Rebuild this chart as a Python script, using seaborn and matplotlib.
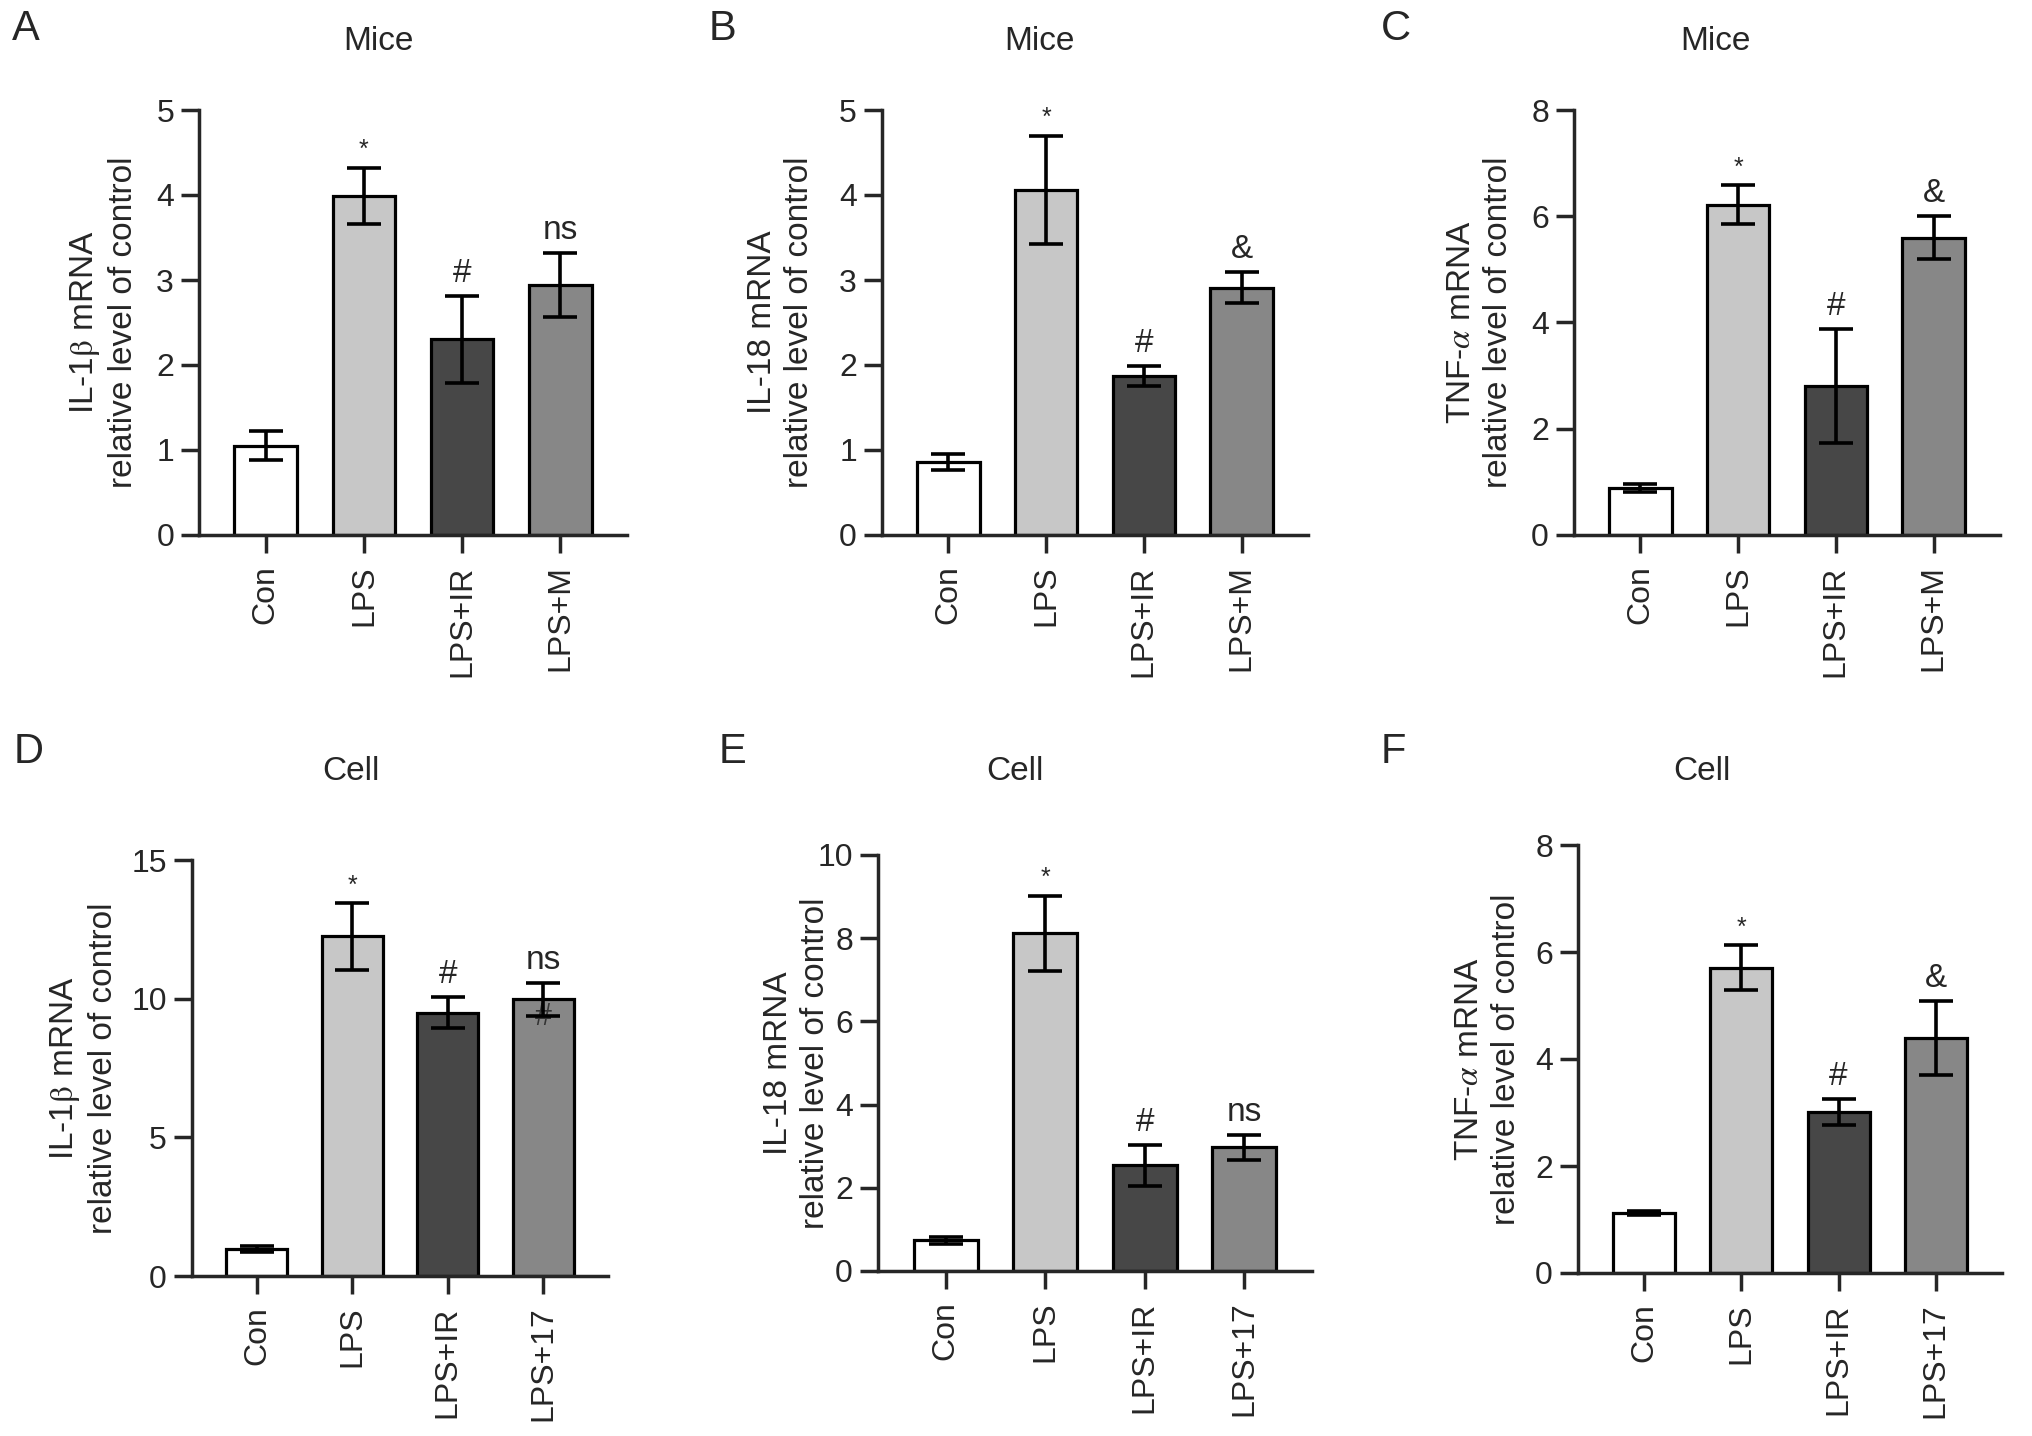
import numpy as np
import pandas as pd
import matplotlib
matplotlib.use("Agg")
import matplotlib.pyplot as plt
import seaborn as sns

# ---------------- data ----------------
cats_mice = ["Con", "LPS", "LPS+IR", "LPS+M"]
cats_cell = ["Con", "LPS", "LPS+IR", "LPS+17"]

a_mean = [1.05, 3.99, 2.30, 2.94]
a_sem = [0.17, 0.33, 0.51, 0.38]
a_marks = ["", "*", "#", "ns"]

b_mean = [0.86, 4.06, 1.87, 2.91]
b_sem = [0.09, 0.64, 0.12, 0.18]
b_marks = ["", "*", "#", "&"]

c_mean = [0.88, 6.22, 2.80, 5.60]
c_sem = [0.08, 0.36, 1.07, 0.40]
c_marks = ["", "*", "#", "&"]

d_mean = [0.97, 12.25, 9.50, 9.97]
d_sem = [0.10, 1.20, 0.57, 0.58]
d_marks = ["", "*", "#", "ns"]
d_inner_mark = "#"
d_inner_value = 9.35

e_mean = [0.74, 8.12, 2.54, 2.97]
e_sem = [0.08, 0.90, 0.50, 0.29]
e_marks = ["", "*", "#", "ns"]

f_mean = [1.12, 5.71, 3.01, 4.40]
f_sem = [0.03, 0.42, 0.25, 0.69]
f_marks = ["", "*", "#", "&"]

ylabel_il1b = "IL-1$\\mathrm{\\beta}$ mRNA\nrelative level of control"
ylabel_il18 = "IL-18 mRNA\nrelative level of control"
ylabel_tnf = "TNF-$\\alpha$ mRNA\nrelative level of control"

# ---------------- style ----------------
sns.set_style("ticks")
plt.rcParams["font.family"] = ["Liberation Sans", "DejaVu Sans"]
plt.rcParams["mathtext.fontset"] = "stix"

bar_colors = ["#ffffff", "#c7c7c7", "#474747", "#878787"]
W, H = 2032, 1436
LW = 2.5

fig = plt.figure(figsize=(W / 100, H / 100), dpi=100)


def px_rect(left, right, top, bottom):
    return [left / W, 1 - bottom / H, (right - left) / W, (bottom - top) / H]


def panel(rect, cats, means, sems, marks, ymax, ystep, ylabel, ylabel_x,
          title, title_xy, letter, letter_xy):
    ax = fig.add_axes(rect)
    df = pd.DataFrame({"group": cats, "value": means})
    sns.barplot(data=df, x="group", y="value", hue="group", order=cats,
                hue_order=cats, palette=bar_colors, legend=False, width=0.64,
                edgecolor="black", linewidth=2.3, errorbar=None,
                saturation=1, ax=ax)
    ax.errorbar(np.arange(len(cats)), means, yerr=sems, fmt="none",
                ecolor="black", elinewidth=2.6, capsize=12, capthick=2.6,
                zorder=5)
    for i, (m, s, mk) in enumerate(zip(means, sems, marks)):
        if not mk:
            continue
        fs = 18 if mk == "*" else 24
        off = 4 if mk == "*" else 5
        ax.annotate(mk, xy=(i, m + s), xytext=(0, off),
                    textcoords="offset points", ha="center", va="bottom",
                    fontsize=fs, clip_on=False, annotation_clip=False)
    ax.set_xlim(-0.68, len(cats) - 1 + 0.68)
    ax.set_ylim(0, ymax)
    ax.set_yticks(np.arange(0, ymax + ystep / 2, ystep))
    ax.set_xlabel("")
    ax.set_ylabel(ylabel, fontsize=24, linespacing=1.25)
    sns.despine(ax=ax)
    for sp in ("left", "bottom"):
        ax.spines[sp].set_linewidth(LW)
    ax.tick_params(axis="both", length=13, width=LW, labelsize=23)
    ax.tick_params(axis="y", pad=5)
    ax.tick_params(axis="x", labelrotation=90, pad=9)
    ymid = 1 - (rect[1] + rect[3] / 2)
    ax.yaxis.set_label_coords(ylabel_x / W, 1 - ymid, transform=fig.transFigure)
    ax.yaxis.label.set_verticalalignment("center")
    fig.text(title_xy[0] / W, 1 - title_xy[1] / H, title, ha="center",
             va="center", fontsize=24)
    fig.text(letter_xy[0] / W, 1 - letter_xy[1] / H, letter, ha="center",
             va="center", fontsize=30)
    return ax


panel(px_rect(199, 627, 110, 535), cats_mice, a_mean, a_sem, a_marks, 5, 1,
      ylabel_il1b, 104, "Mice", (378, 41), "A", (26, 29))
panel(px_rect(882, 1308, 110, 535), cats_mice, b_mean, b_sem, b_marks, 5, 1,
      ylabel_il18, 781, "Mice", (1039, 41), "B", (722, 29))
panel(px_rect(1574, 2000, 110, 535), cats_mice, c_mean, c_sem, c_marks, 8, 2,
      ylabel_tnf, 1480, "Mice", (1715, 41), "C", (1396, 29))
axd = panel(px_rect(192, 608, 860, 1276), cats_cell, d_mean, d_sem, d_marks,
            15, 5, ylabel_il1b, 84, "Cell", (351, 772), "D", (29, 752))
axd.text(3, d_inner_value, d_inner_mark, ha="center", va="center",
         fontsize=22, color="#333333", zorder=4)
panel(px_rect(878, 1312, 855, 1271), cats_cell, e_mean, e_sem, e_marks, 10, 2,
      ylabel_il18, 797, "Cell", (1015, 772), "E", (732, 752))
panel(px_rect(1578, 2002, 845, 1273), cats_cell, f_mean, f_sem, f_marks, 8, 2,
      ylabel_tnf, 1488, "Cell", (1702, 772), "F", (1393, 752))

fig.savefig("out.png", dpi=100)
